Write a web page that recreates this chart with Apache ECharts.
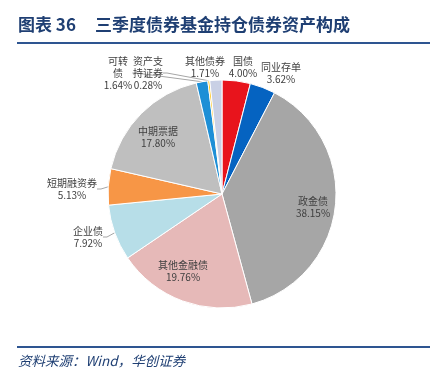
<!DOCTYPE html>
<html><head><meta charset="utf-8">
<script src="https://cdn.jsdelivr.net/npm/echarts@6/dist/echarts.min.js"></script>
<style>html,body{margin:0;padding:0;background:#fff}#c{width:441px;height:372px}</style>
</head><body><div id="c"></div>
<script>
const categories = ['国债','同业存单','政金债','其他金融债','企业债','短期融资券','中期票据','可转债','资产支持证券','其他债券'];
const values = [4.00, 3.62, 38.15, 19.76, 7.92, 5.13, 17.80, 1.64, 0.28, 1.71];
const labelTexts = ['国债\n4.00%','同业存单\n3.62%','政金债\n38.15%','其他金融债\n19.76%','企业债\n7.92%','短期融资券\n5.13%','中期票据\n17.80%','可转\n债\n1.64%','资产支\n持证券\n0.28%','其他债券\n1.71%'];
const colors = ['#E8141C','#0563C1','#A6A6A6','#E6B9B8','#B7DEE8','#F79646','#BFBFBF','#1D8FD6','#FFC000','#C9D0E5'];
const labelPos = [[243,67],[281,73],[313,207],[183,271],[88,237],[72,189],[158,137],[118,73],[148,73],[205,67]];
const withLine = [false,false,false,false,true,true,false,true,true,false];

const chart = echarts.init(document.getElementById('c'));
const font = '"Noto Sans CJK SC", sans-serif';
chart.setOption({
  animation:false,
  graphic:[
    {type:'text',left:18,top:16,style:{text:'图表 36',font:'bold 17px "Noto Sans CJK SC"',fill:'#1F3F73'}},
    {type:'text',left:95,top:16,style:{text:'三季度债券基金持仓债券资产构成',font:'bold 17px "Noto Sans CJK SC"',fill:'#1F3F73'}},
    {type:'rect',shape:{x:17,y:42,width:413,height:2},style:{fill:'#2E5591'}},
    {type:'rect',shape:{x:17,y:346,width:413,height:2},style:{fill:'#2E5591'}},
    {type:'text',left:18,top:354,style:{text:'资料来源：Wind，华创证券',font:'italic 13.5px "Noto Sans CJK SC"',fill:'#1F3F73'}}
  ],
  series:[{
    type:'pie',
    center:[222,194],
    radius:[0,114],
    startAngle:90,
    clockwise:true,
    data:categories.map((n,i)=>({name:n,value:values[i],itemStyle:{color:colors[i]},
      label:{formatter:labelTexts[i]},
      labelLine:{show:withLine[i],length:6,length2:4,lineStyle:{color:'#A6A6A6',width:1}}})),
    itemStyle:{borderColor:'#fff',borderWidth:1},
    label:{show:true,position:'outside',color:'#404040',fontSize:10,lineHeight:12,fontFamily:font,align:'center'},
    labelLayout:function(p){const q=labelPos[p.dataIndex];return {x:q[0],y:q[1],align:'center',verticalAlign:'middle'};}
  }]
});
</script></body></html>
